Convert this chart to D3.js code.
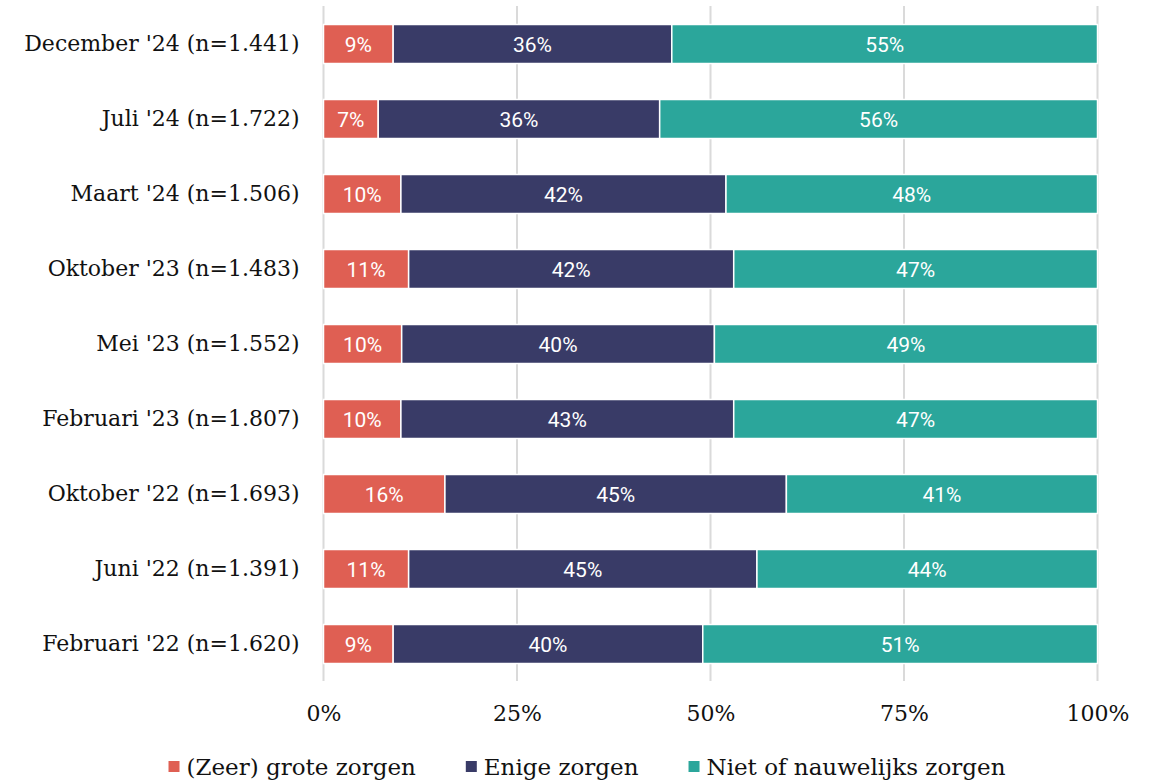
<!DOCTYPE html>
<html>
<head>
<meta charset="utf-8">
<script src="https://cdn.jsdelivr.net/npm/d3@7"></script>
<style>
  body { margin: 0; background: #fff; }
</style>
</head>
<body>
<div class="chart"></div>
<script>
const width = 1158;
const height = 781;

// data (top to bottom)
const categories = [
  "December '24 (n=1.441)",
  "Juli '24 (n=1.722)",
  "Maart '24 (n=1.506)",
  "Oktober '23 (n=1.483)",
  "Mei '23 (n=1.552)",
  "Februari '23 (n=1.807)",
  "Oktober '22 (n=1.693)",
  "Juni '22 (n=1.391)",
  "Februari '22 (n=1.620)"
];
const seriesNames = ["(Zeer) grote zorgen", "Enige zorgen", "Niet of nauwelijks zorgen"];
const groteZorgen = [9, 7, 10, 11, 10, 10, 16, 11, 9];
const enigeZorgen = [36, 36, 42, 42, 40, 43, 45, 45, 40];
const nietZorgen = [55, 56, 48, 47, 49, 47, 41, 44, 51];
const tickValues = [0, 0.25, 0.5, 0.75, 1];
const colors = ["#df5f53", "#393b67", "#2ba69b"];

const rows = categories.map((c, i) => ({
  cat: c,
  s0: groteZorgen[i],
  s1: enigeZorgen[i],
  s2: nietZorgen[i]
}));

const stack = d3.stack().keys(["s0", "s1", "s2"]).offset(d3.stackOffsetExpand);
const stacked = stack(rows);

const x = d3.scaleLinear().domain([0, 1]).range([323.5, 1097.5]);
const y = d3.scaleBand().domain(categories).range([6.5, 681.5])
  .paddingInner(0.48).paddingOuter(0.24);

const svg = d3.select(".chart").append("svg")
  .attr("width", width)
  .attr("height", height);

// grid lines
svg.append("g").selectAll("line").data(tickValues).join("line")
  .attr("x1", d => x(d)).attr("x2", d => x(d))
  .attr("y1", 6).attr("y2", 681)
  .attr("stroke", "#dadada").attr("stroke-width", 2);

// x axis labels
const xAxis = d3.axisBottom(x).tickValues(tickValues).tickFormat(d3.format(".0%")).tickSize(0);
const gx = svg.append("g").attr("transform", "translate(0,721)").call(xAxis);
gx.select(".domain").remove();
gx.selectAll("text")
  .attr("font-family", "'DejaVu Serif', serif")
  .attr("font-size", 22)
  .attr("fill", "#111")
  .attr("y", 0)
  .attr("dy", null);

// y axis labels
const yAxis = d3.axisLeft(y).tickSize(0).tickPadding(24);
const gy = svg.append("g").attr("transform", "translate(323.5,0)").call(yAxis);
gy.select(".domain").remove();
gy.selectAll("text")
  .attr("font-family", "'DejaVu Serif', serif")
  .attr("font-size", 22)
  .attr("fill", "#111");

// bars
const layer = svg.append("g").selectAll("g").data(stacked).join("g")
  .attr("fill", (d, i) => colors[i]);

layer.selectAll("rect").data(d => d.map(v => ({ v, key: d.key }))).join("rect")
  .attr("x", d => x(d.v[0]))
  .attr("y", d => y(d.v.data.cat))
  .attr("width", d => x(d.v[1]) - x(d.v[0]))
  .attr("height", y.bandwidth())
  .attr("stroke", "#fff")
  .attr("stroke-width", 1.5);

layer.selectAll("text").data(d => d.map(v => ({ v, key: d.key }))).join("text")
  .attr("x", d => (x(d.v[0]) + x(d.v[1])) / 2)
  .attr("y", d => y(d.v.data.cat) + y.bandwidth() / 2)
  .attr("dy", "0.36em")
  .attr("text-anchor", "middle")
  .attr("font-family", "Roboto, sans-serif")
  .attr("font-size", 21)
  .attr("fill", "#fff")
  .text(d => d.v.data[d.key] + "%");

// legend
const legend = svg.append("g");
const items = legend.selectAll("g").data(seriesNames).join("g");
items.append("rect")
  .attr("y", 761).attr("width", 11).attr("height", 11)
  .attr("fill", (d, i) => colors[i]);
items.append("text")
  .attr("x", 18).attr("y", 775)
  .attr("font-family", "'DejaVu Serif', serif")
  .attr("font-size", 23)
  .attr("fill", "#111")
  .text(d => d);

let offset = 0;
const widths = [];
items.each(function () {
  widths.push(18 + d3.select(this).select("text").node().getComputedTextLength());
});
const total = d3.sum(widths) + 50 * (widths.length - 1);
offset = 587 - total / 2;
items.attr("transform", (d, i) => {
  const t = "translate(" + offset + ",0)";
  offset += widths[i] + 50;
  return t;
});
</script>
</body>
</html>
